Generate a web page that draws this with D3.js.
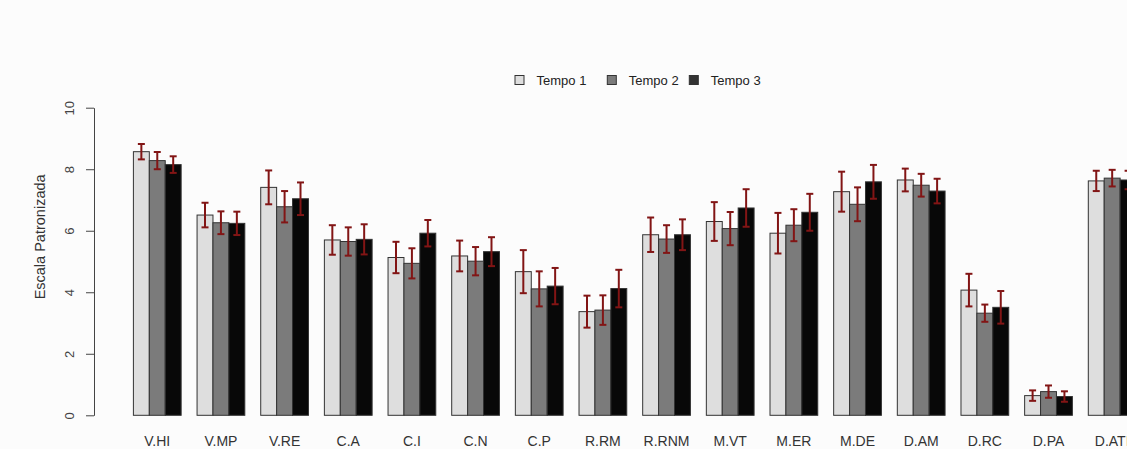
<!DOCTYPE html>
<html>
<head>
<meta charset="utf-8">
<title></title>
<script src="https://d3js.org/d3.v7.min.js"></script>
<style>
  body { margin: 0; background: #fcfcfc; }
  text { font-family: "Liberation Sans", Arial, sans-serif; }
</style>
</head>
<body>
<script>
var w = 1127, h = 449;

var categories = ["V.HI","V.MP","V.RE","C.A","C.I","C.N","C.P","R.RM","R.RNM","M.VT","M.ER","M.DE","D.AM","D.RC","D.PA","D.ATI"];
var seriesNames = ["Tempo 1","Tempo 2","Tempo 3"];
var tempo1 = [8.57,6.51,7.41,5.70,5.13,5.18,4.67,3.37,5.87,6.30,5.92,7.27,7.65,4.07,0.64,7.62];
var tempo2 = [8.28,6.26,6.78,5.65,4.94,5.01,4.11,3.42,5.73,6.07,6.18,6.86,7.48,3.32,0.77,7.71];
var tempo3 = [8.15,6.24,7.04,5.72,5.92,5.32,4.20,4.12,5.87,6.74,6.60,7.59,7.29,3.51,0.61,7.65];
// half width of the error bars
var err1 = [0.25,0.40,0.55,0.48,0.51,0.50,0.70,0.52,0.56,0.63,0.66,0.65,0.37,0.53,0.17,0.33];
var err2 = [0.28,0.37,0.51,0.46,0.49,0.46,0.57,0.48,0.45,0.54,0.52,0.55,0.37,0.28,0.20,0.27];
var err3 = [0.27,0.38,0.53,0.49,0.43,0.47,0.59,0.61,0.50,0.61,0.60,0.55,0.40,0.53,0.17,0.30];
var yTicks = [0,2,4,6,8,10];

var values = [tempo1, tempo2, tempo3];
var errors = [err1, err2, err3];
var fills = ["#dedede","#7b7b7b","#080808"];

var svg = d3.select("body").append("svg")
  .attr("width", w).attr("height", h);

var step = 63.66;
var x0 = d3.scaleBand().domain(categories)
  .range([133.4, 133.4 + step * (categories.length - 0.25)])
  .paddingInner(0.25).paddingOuter(0);
var x1 = d3.scaleBand().domain([0,1,2]).range([0, x0.bandwidth()]);
var y = d3.scaleLinear().domain([0,10]).range([415.3, 107.7]);

// bars
var rows = [];
categories.forEach(function(c, i){
  for (var s = 0; s < 3; s++) rows.push({cat: c, s: s, v: values[s][i], e: errors[s][i]});
});

svg.append("g").selectAll("rect").data(rows).enter().append("rect")
  .attr("x", function(d){ return x0(d.cat) + x1(d.s); })
  .attr("y", function(d){ return y(d.v); })
  .attr("width", x1.bandwidth())
  .attr("height", function(d){ return y(0) - y(d.v); })
  .attr("fill", function(d){ return fills[d.s]; })
  .attr("stroke", "#333")
  .attr("stroke-width", 1);

// error bars
var eb = svg.append("g").attr("stroke", "#821515").attr("stroke-width", 2).attr("fill", "none");
rows.forEach(function(d){
  var cx = x0(d.cat) + x1(d.s) + x1.bandwidth() / 2;
  var top = y(d.v + d.e), bot = y(d.v - d.e);
  eb.append("line").attr("x1", cx).attr("x2", cx).attr("y1", top).attr("y2", bot);
  eb.append("line").attr("x1", cx - 3.5).attr("x2", cx + 3.5).attr("y1", top).attr("y2", top);
  eb.append("line").attr("x1", cx - 3.5).attr("x2", cx + 3.5).attr("y1", bot).attr("y2", bot);
});

// y axis
var yAxis = svg.append("g").attr("transform", "translate(94,0)")
  .call(d3.axisLeft(y).tickValues(yTicks).tickSize(8).tickSizeOuter(0).tickFormat(d3.format("d")));
yAxis.select(".domain").attr("stroke", "#444");
yAxis.selectAll(".tick line").attr("stroke", "#444");
yAxis.selectAll(".tick text")
  .attr("x", null).attr("dy", null)
  .attr("transform", "translate(-20.5,0) rotate(-90)")
  .attr("text-anchor", "middle")
  .attr("font-size", 13).attr("fill", "#444");

svg.append("text")
  .attr("transform", "translate(45," + y(5.8) + ") rotate(-90)")
  .attr("text-anchor", "middle")
  .attr("font-size", 14.5).attr("fill", "#333")
  .text("Escala Patronizada");

// category labels
svg.append("g").selectAll("text").data(categories).enter().append("text")
  .attr("x", function(d){ return x0(d) + x0.bandwidth() / 2; })
  .attr("y", 446)
  .attr("text-anchor", "middle")
  .attr("font-size", 14).attr("fill", "#333")
  .text(function(d){ return d; });

// legend
var legX = [515, 607.3, 689.3];
var leg = svg.append("g");
seriesNames.forEach(function(n, i){
  leg.append("rect").attr("x", legX[i]).attr("y", 75.5).attr("width", 9).attr("height", 9)
    .attr("fill", fills[i] === "#080808" ? "#333" : fills[i]).attr("stroke", "#333");
  leg.append("text").attr("x", legX[i] + 21.5).attr("y", 84.5)
    .attr("font-size", 13).attr("fill", "#222").text(n);
});
</script>
</body>
</html>
